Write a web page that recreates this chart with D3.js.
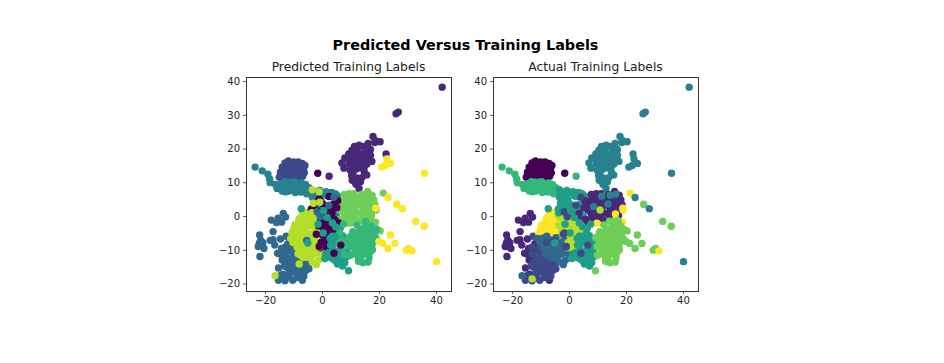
<!DOCTYPE html>
<html>
<head>
<meta charset="utf-8">
<script src="https://cdnjs.cloudflare.com/ajax/libs/d3/7.8.5/d3.min.js"></script>
<style>
	html, body { margin: 0; padding: 0; background: #fff; }
	svg { display: block; }
	text { font-family: "DejaVu Sans", sans-serif; fill: #222; }
</style>
</head>
<body>
<svg id="chart" width="944" height="363"></svg>
<script>
const suptitle = 'Predicted Versus Training Labels';
const panelTitles = ['Predicted Training Labels', 'Actual Training Labels'];
const xTicks = [-20, 0, 20, 40];
const yTicks = [-20, -10, 0, 10, 20, 30, 40];
const xDomain = [-26.7, 45.3];
const yDomain = [-22.2, 41.2];
const viridis = ['#440154', '#482878', '#3e4989', '#31688e', '#26828e', '#1f9e89', '#35b779', '#6ece58', '#b5de2b', '#fde725'];

// [x, y]; names say what the cluster is
const topBlob = [[-15, 11.5], [-14.6, 13], [-14, 14.5], [-13.6, 11], [-13.4, 12.5], [-13, 15.7], [-12.8, 13.8], [-12.5, 10.8], [-12.3, 12], [-12, 14.8], [-11.8, 16.3], [-11.5, 13], [-11.2, 11], [-11, 15.6], [-10.7, 12.2], [-10.3, 14], [-10, 10.6], [-10, 16], [-9.6, 12.8], [-9.3, 15], [-9, 11.4], [-8.7, 13.6], [-8.4, 16], [-8.2, 12.2], [-8, 14.8], [-7.7, 10.6], [-7.4, 13.2], [-7, 15.6], [-6.8, 11.8], [-6.5, 14.2], [-6.2, 12.8], [-6, 15], [-14.2, 12.2], [-12, 12.9], [-10.8, 13.4], [-9.8, 11.6], [-8.6, 14.5], [-7.5, 11.9]];
const tealTail = [[-23.5, 14.5], [-21, 13.4], [-19, 12.4], [-18.4, 11], [-18.2, 9.9], [-16.4, 9.4], [-15.3, 8.9], [-14.6, 8.2], [-13.6, 9.4], [-13, 8], [-12.2, 9], [-11.6, 7.4], [-10.8, 10], [-10.2, 8.3], [-9.4, 7], [-8.8, 9.6], [-8.2, 8], [-7.4, 7.1], [-6.8, 9], [-6, 8], [-5.4, 6.6], [-4.6, 8.4], [-11.5, 8.8], [-12.8, 7.2], [-7.6, 8.4], [-5, 7.4], [-15.8, 8.2], [-14.4, 9.6], [-13.2, 10.2], [-12, 10], [-11, 8], [-10, 9.3], [-9.2, 8.2], [-8.4, 7.4], [-7.2, 9.8], [-6.4, 7.3], [-5.8, 9.4], [-4.2, 7], [-14, 7.4], [-9.6, 10.2]];
const tealEast = [[-3, 7.4], [-0.8, 7.6], [0.5, 6.6], [1.4, 7.2], [2.6, 6.9], [3.4, 5.7], [-2, 5.6], [-0.4, 4.7], [-3.4, 5.6], [-2.2, 7], [-1.4, 6.2], [1.8, 6], [3.4, 7], [4.6, 6.6], [5.4, 6], [0, 1.2], [-2.2, 0.2], [-1.2, 2.8], [2.8, 0.2], [1.6, -2.8], [4.2, 1.8], [5, 0], [3.2, -4.2]];
const topCluster = [[7, 15.7], [8, 17.2], [7.7, 14.2], [9.4, 18.4], [9.5, 15.5], [9.9, 13.6], [10.5, 19.5], [10.6, 17], [11, 14.8], [11.4, 20.6], [11.7, 18.2], [12, 15.8], [12.4, 19.6], [12.8, 17.2], [13, 21], [13.4, 14.4], [13.8, 18.4], [14, 16], [14.5, 20.6], [14.8, 13.2], [15, 17.8], [15.4, 19.9], [15.8, 15.4], [16.2, 21.5], [16.4, 17.4], [17, 19.7], [17.5, 16.2], [17.9, 23.6], [18.5, 21.8], [20.4, 22], [18.8, 22.3], [12.2, 11.3], [10.6, 10.6], [11.9, 9.4], [13, 8.2], [14, 11.4], [13.5, 10.2], [42.2, 38.2], [26, 30.3], [26.8, 30.8], [22.5, 18.4], [10, 16.8], [11, 18.6], [12.6, 18.6], [13.2, 15.2], [14.6, 16.8], [15.5, 18.8], [16, 16.2], [17, 18], [12.2, 14], [10.4, 12], [11, 13.2], [14.8, 14.5], [15.7, 12.2]];
const topYellow = [[21, 14.5], [22.2, 15], [24, 15.6], [22.8, 16.9], [36, 12.7]];
const upperGreen = [[5.9, -1], [6.6, 1.8], [7.2, 4.5], [8, 0], [8.8, 3], [8.4, 5.6], [9.5, 6.6], [9.9, 1], [10.4, 4.2], [11.2, -0.6], [11.6, 2.5], [12, 5.6], [13, 0.8], [13.3, 3.8], [13.8, 6.4], [14.6, 1.9], [15, 4.8], [15.7, 0.3], [16, 7.3], [16.6, 3.3], [17, 5.8], [17.8, 1.7], [18.2, 4.8], [6.8, 3.2], [7.6, 1], [7.8, 6.4], [8.4, -1], [9.2, 4.6], [9.4, 2], [10, 5.8], [10.4, -0.4], [10.8, 2.8], [11.2, 6.6], [11.6, 0.8], [12.4, 3.6], [12.6, -1.4], [13.2, 5], [14, 2.8], [14.4, 0.2], [14.8, 6], [15.4, 3.4], [16.2, 1.4], [16.4, 5.2], [17.2, 3], [17.4, 0.2], [17.6, 6.2], [18.6, 3.4]];
const upperGreenYellow = [[21.5, 6.8], [9.8, -2.1], [16.5, -1], [18.8, -1.8], [16.3, 0.6], [19, 1.8]];
const upperGreenKept = [[14.2, -1.5], [18, -2.8], [20.4, -4.4], [17.2, -1.4]];
const upperGreenTeal = [[11.5, 5.9], [13.7, 3.6], [14.4, 6.2], [16.4, 6.5], [8.6, 2.8]];
const upperGreenLime = [[10.9, 1.8]];
const centerDarkUpper = [[-3, 3], [-1.5, 1.5], [-2.4, 3.8], [-1, 5], [0.3, 3.6], [2.5, 5.8], [4, 3.5], [1, 0.6], [-3.8, 2], [1.6, 2.2], [3, 2.4]];
const centerDarkPurple = [[3.5, 0.8], [5.2, 2.5], [5.5, 4.6], [4.4, -1], [5.8, -2]];
const centerDarkLower = [[-0.5, -1.5], [0.5, -3], [2, -1.5], [3.4, -3], [1.2, -4.5], [-0.6, -5], [0.8, -6.8], [2.2, -5.6], [-0.3, -7.8], [1, -8.8], [2.4, -7.6], [5.2, -4.6], [3.4, -5.2], [0, -2.6], [1.4, -3.4], [2.8, -3.8], [4.2, -2.8], [-1, -3.4], [0.2, -5.6], [1.6, -7.8], [-0.6, -9.4], [1.8, -9.6]];
const lowerTeal = [[3.6, -6], [4.5, -8], [5.4, -6.5], [6.3, -8.4], [7.2, -5.8], [4, -10], [5.5, -10.4], [7.2, -10], [2.4, -10.8], [3.6, -12.6], [5, -12.2], [6.5, -12.5], [5.4, -14.2], [7.2, -14.8], [6.8, -13.6], [8.8, -12], [4.8, -3.2], [6.4, -3.6], [8.4, -7.2], [1, -12.6], [1.3, -11.2], [3, -8.6], [5, -7.8], [6.4, -6.4], [3.4, -10.8], [4.6, -13.2], [6, -11.4], [8, -13.8], [8.6, -10.2], [2, -12.2]];
const lowerTealGreen = [[9.3, -16.2]];
const rightTealGreen = [[9.4, -6.4], [9.8, -9], [10, -11.6], [10.8, -4.6], [11, -7.6], [12, -10.4], [12.2, -2.6], [12.6, -5.8], [12.8, -13.4], [13.4, -8.3], [13.8, -11.8], [14, -3.8], [14.6, -6.5], [15, -10], [15.3, -1.6], [15.9, -4.8], [16, -8], [16.5, -12.4], [17, -6], [17.3, -2.9], [17.7, -10], [18.2, -7.4], [18.4, -4.6], [16.2, -13.6], [14.4, -13.8], [11.4, -9.2], [13, -4.4], [14.8, -8.6], [16.8, -3.9], [19, -6.6], [10.2, -6], [10.6, -8.4], [11.6, -5.4], [11.8, -7], [12.4, -8.8], [13, -6.8], [13.2, -10.8], [13.6, -5.4], [14.2, -9.4], [14.6, -11.2], [15.2, -3.2], [15.4, -7.2], [15.8, -9.4], [16.4, -6.4], [16.8, -10.8], [17.6, -8.4], [18.4, -5.8], [12.6, -12], [11.2, -11], [17.6, -4.2], [19.2, -3.9]];
const westTealGreen = [[6, -8], [7.5, -9.2], [7, -7.2], [6.2, -5], [7.6, -2.4], [8.8, -8.6], [7.8, -11.4]];
const lowerRightYellow = [[26.2, 3.5], [32.9, -1.6], [35.9, -3], [24, -5.6], [21.3, -8.1], [20, -7.5], [25.6, -8.1], [23.2, -9.6], [29.6, -10.1], [30.4, -9.6]];
const lowerYellowTeal = [[23.2, 5.5], [28.2, 2.2], [40.2, -13.5]];
const lowerYellowKept = [[18.9, 2.3], [31.6, -10.3]];
const limeUpperWest = [[-10.6, -5], [-9.6, -2.6], [-8, -0.7], [-7.4, -3.6], [-6.2, 1.2], [-5.6, -1.9], [-5, -4.9], [-8.8, -4.4], [-6.8, -5.2], [-4.6, -2.8], [-7, -1.6], [-10, -3.8], [-9.4, -5.2], [-8.4, -3], [-7, 0.4], [-6, -3.6], [-5.2, 0.2], [-4, -1.4], [-8.2, -1.6]];
const limeUpperEast = [[-3.6, -2.8], [-3, -6.2], [-2.5, 1.8], [-1.8, -1.2], [-1.4, -3.9], [-2.6, -4.5], [-3.2, -0.4], [-2.2, -2.8], [-2, -6], [-4, 0.3]];
const limeLower = [[-9, -6.5], [-6.6, -7.1], [-7.8, -6], [-4.6, -6.4], [-11, -6.6], [-9.2, -8], [-8, -10], [-7.2, -8.6], [-6, -10.9], [-5.4, -8.5], [-4.4, -12.3], [-4, -10], [-3, -8], [-2.6, -11.2], [-1.6, -9.2], [-1.2, -13], [-0.4, -11], [-6.6, -12.3], [-7.5, -11.6], [-1, -6.5], [-3.4, -13.6], [-2, -14.4], [-16.5, -17.7], [-10.2, -7.8], [-8.8, -9.2], [-6.8, -9.8], [-5.2, -10], [-4.8, -7.6], [-3.8, -8.8], [-3, -9.8], [-2.2, -7.6], [-1.8, -10.6], [-0.8, -8], [-5.4, -12.2], [-3.6, -11.6], [-8.4, -11.2]];
const farLeftBlue = [[-21.9, -5.6], [-21.8, -12], [-22.4, -9], [-20.8, -7.9], [-21.5, -7.2], [-20.4, -9.6], [-22, -8], [-17.2, -4.6], [-17.8, -1.2], [-16, -1.9], [-13.6, 0.8], [-14.2, -1.8], [-15.4, -0.6], [-17.2, -7], [-18.2, -7.2], [-16.6, -8.6], [-12.8, -0.3]];
const lowerBlueWest = [[-15.6, -11], [-15.3, -15.4], [-14.2, -9.6], [-14, -13], [-13.8, -17.2], [-12, -8.2], [-14.6, -6.8], [-14.4, -11.4], [-12.2, -10.4], [-11.4, -12.6], [-6.9, -19]];
const lowerBlue = [[-15.3, -19], [-13, -11.2], [-13, -19.2], [-12.6, -15], [-11.8, -12.5], [-11.4, -17.6], [-10.8, -10], [-10.6, -14.8], [-10.3, -19], [-9.7, -7.4], [-9.4, -12], [-9.2, -16.4], [-8.4, -9.8], [-8, -13.4], [-7.8, -18], [-7.2, -15.3], [-6.4, -13.3], [-5.8, -16.2], [-5.2, -14.2], [-4.8, -11.6], [-12.6, -6], [-10.6, -7.1], [-12.4, -13.8], [-10, -11.4], [-8.6, -15.6], [-6.4, -17.8], [-13, -9.2], [-13.2, -14.8], [-11.6, -16], [-11, -12.8], [-10.4, -16.4], [-9.8, -9.4], [-9.2, -14], [-8.8, -18.2], [-8, -11.8], [-7.4, -13.8], [-7, -17], [-6.2, -15], [-4.2, -13.2], [-12.4, -17.8], [-14.6, -17.6], [-4.6, -15.6]];
const scatteredLime = [[-3.4, 7.8], [-3, 3.8], [-1, 7.2], [-0.8, 4.1], [-3.6, 1]];
const scatteredLimeLower = [[-1.6, -5], [-1, -9.2], [-7.9, -7.8], [-8, -14.2]];
const scatteredBlue = [[-5.4, -7.2], [-1.7, 1.3], [-0.6, -0.2], [2.4, 3.2], [4.2, 5.6]];
const scatteredTeal = [[0.6, 1.6], [-1.4, -2.4], [1.8, -0.4], [3.6, -2], [4.6, -6], [2.8, -6.6], [0.4, -5], [-7.3, 2.2], [-5, -8]];
const scatteredDark = [[-1, -9], [-2, -5.4], [4.2, -11], [6.6, -8.6]];

// which label each cluster got in the two panels, drawn in this order
const groupPoints = [topBlob, tealTail, tealEast, topCluster, topYellow, upperGreen, upperGreenYellow, upperGreenKept, upperGreenTeal, upperGreenLime, farLeftBlue, lowerBlueWest, lowerBlue, limeUpperWest, limeUpperEast, limeLower, centerDarkUpper, centerDarkPurple, centerDarkLower, lowerTeal, lowerTealGreen, westTealGreen, rightTealGreen, lowerRightYellow, lowerYellowTeal, lowerYellowKept, scatteredLime, scatteredLimeLower, scatteredBlue, scatteredTeal, scatteredDark];
const predictedLabels = [2, 4, 4, 1, 9, 7, 7, 7, 7, 7, 3, 3, 3, 8, 8, 8, 0, 0, 0, 5, 5, 6, 6, 9, 9, 9, 8, 8, 3, 5, 0];
const actualLabels = [0, 6, 5, 4, 4, 1, 9, 7, 4, 8, 1, 1, 2, 9, 8, 3, 5, 1, 8, 5, 7, 5, 7, 7, 4, 9, 5, 2, 2, 5, 2];
const soloPoints = [[-1.5, 12.7], [2.5, 11.8], [-13, -18.6]];
const soloPredicted = [0, 1, 3];
const soloActual = [0, 6, 8];

const panels = [
	{ left: 246, title: panelTitles[0], labels: predictedLabels, solo: soloPredicted },
	{ left: 493, title: panelTitles[1], labels: actualLabels, solo: soloActual }
];
const panelWidth = 205;
const panelTop = 77;
const panelHeight = 214;

const svg = d3.select('#chart');

svg.append('text')
	.attr('x', 465.5).attr('y', 50)
	.attr('text-anchor', 'middle')
	.attr('font-weight', 'bold')
	.attr('font-size', 14.4)
	.style('fill', '#000')
	.text(suptitle);

panels.forEach(panel => {
	const x = d3.scaleLinear().domain(xDomain).range([panel.left, panel.left + panelWidth]);
	const y = d3.scaleLinear().domain(yDomain).range([panelTop + panelHeight, panelTop]);
	const g = svg.append('g');

	groupPoints.forEach((points, i) => {
		g.append('g').selectAll('circle').data(points).enter()
			.append('circle')
				.attr('cx', d => x(d[0]))
				.attr('cy', d => y(d[1]))
				.attr('r', 3.7)
				.attr('fill', viridis[panel.labels[i]]);
	});
	g.append('g').selectAll('circle').data(soloPoints).enter()
		.append('circle')
			.attr('cx', d => x(d[0]))
			.attr('cy', d => y(d[1]))
			.attr('r', 3.7)
			.attr('fill', (d, i) => viridis[panel.solo[i]]);

	const xAxis = g.append('g')
		.attr('transform', `translate(0,${panelTop + panelHeight})`)
		.call(d3.axisBottom(x).tickValues(xTicks).tickSizeOuter(0).tickSize(3).tickPadding(3).tickFormat(d => d3.format('d')(d).replace('-', '\u2212')));
	const yAxis = g.append('g')
		.attr('transform', `translate(${panel.left},0)`)
		.call(d3.axisLeft(y).tickValues(yTicks).tickSizeOuter(0).tickSize(3).tickPadding(3).tickFormat(d => d3.format('d')(d).replace('-', '\u2212')));
	[xAxis, yAxis].forEach(a => {
		a.select('.domain').remove();
		a.selectAll('text').attr('font-size', 10).attr('font-family', '"DejaVu Sans"');
		a.selectAll('line').attr('stroke', '#333').attr('stroke-width', 0.8);
	});

	g.append('rect')
		.attr('x', panel.left + 0.5).attr('y', panelTop + 0.5)
		.attr('width', panelWidth).attr('height', panelHeight)
		.attr('fill', 'none')
		.attr('stroke', '#333')
		.attr('stroke-width', 1);

	g.append('text')
		.attr('x', panel.left + panelWidth / 2).attr('y', panelTop - 6)
		.attr('text-anchor', 'middle')
		.attr('font-size', 12.3)
		.text(panel.title);
});
</script>
</body>
</html>
